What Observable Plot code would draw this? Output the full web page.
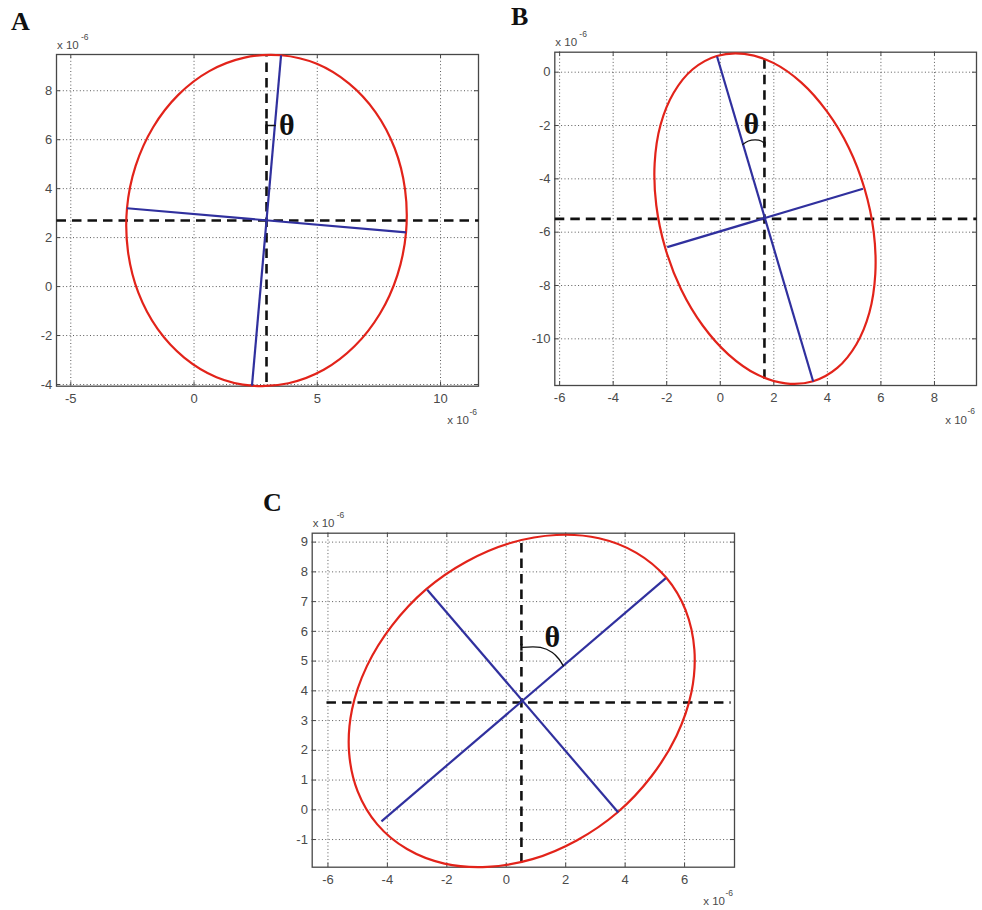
<!DOCTYPE html>
<html><head><meta charset="utf-8">
<script src="https://cdn.jsdelivr.net/npm/d3@7"></script>
<script src="https://cdn.jsdelivr.net/npm/@observablehq/plot@0.6"></script>
<style>
html,body{margin:0;padding:0;background:#fff;}
#root{position:relative;width:982px;height:910px;overflow:hidden;background:#fff;}
.panel{position:absolute;}
.panel svg{background:transparent !important;max-width:none !important;}
.letter{position:absolute;font-family:"Liberation Serif","Times New Roman",serif;font-weight:bold;font-size:26px;line-height:1;color:#111;}
</style></head><body><div id="root"></div>
<script>
// ---------- data (units of 1e-6) ----------
const panelLetters = ["A", "B", "C"];
const expLabel = ["x 10", "-6"];
const thetaLabel = "θ";

// Panel A
const aXTicks = [-5, 0, 5, 10];
const aYTicks = [-4, -2, 0, 2, 4, 6, 8];
const aXLim = [-5.58, 11.54];
const aYLim = [-4.07, 9.48];
const aEllipse = [[3.53,9.45],[4.98,9.10],[6.28,8.30],[7.36,7.13],[8.14,5.65],[8.56,3.97],[8.60,2.21],[8.25,0.47],[7.54,-1.11],[6.52,-2.43],[5.26,-3.40],[3.83,-3.95],[2.35,-4.05],[0.91,-3.70],[-0.40,-2.90],[-1.48,-1.73],[-2.26,-0.25],[-2.68,1.43],[-2.72,3.20],[-2.37,4.93],[-1.66,6.51],[-0.64,7.83],[0.62,8.80],[2.05,9.35]];
const aMajor = [[3.53,9.45],[2.35,-4.05]];
const aMinor = [[-2.72,3.20],[8.60,2.21]];
const aCenter = [2.94, 2.70];
const aVDashY = [-3.90, 9.47];
const aHDashX = [-5.58, 11.54];
const aArc = [[2.94,6.58],[3.29,6.58]];
const aHook = [[2.94,6.40],[2.94,6.76]];
const aTheta = [3.76, 6.58];

// Panel B
const bXTicks = [-6, -4, -2, 0, 2, 4, 6, 8];
const bYTicks = [-10, -8, -6, -4, -2, 0];
const bXLim = [-6.18, 9.57];
const bYLim = [-11.75, 0.75];
const bEllipse = [[-0.13,0.61],[0.90,0.69],[1.98,0.35],[3.03,-0.39],[3.99,-1.48],[4.80,-2.83],[5.39,-4.37],[5.73,-5.99],[5.79,-7.57],[5.57,-9.01],[5.08,-10.21],[4.37,-11.09],[3.47,-11.59],[2.44,-11.67],[1.36,-11.33],[0.31,-10.59],[-0.65,-9.51],[-1.46,-8.15],[-2.05,-6.61],[-2.39,-4.99],[-2.45,-3.41],[-2.23,-1.97],[-1.74,-0.77],[-1.03,0.11]];
const bMajor = [[-0.12,0.59],[3.47,-11.60]];
const bMinor = [[-1.98,-6.56],[5.33,-4.37]];
const bCenter = [1.65, -5.50];
const bVDashY = [-11.50, 0.62];
const bHDashX = [-6.18, 9.57];
const bArc = [[0.84,-2.71],[1.05,-2.58],[1.31,-2.54],[1.53,-2.58],[1.64,-2.67]];
const bHook = [[1.65,-2.60],[1.65,-2.83]];
const bTheta = [1.16, -1.94];

// Panel C
const cXTicks = [-6, -4, -2, 0, 2, 4, 6];
const cYTicks = [-1, 0, 1, 2, 3, 4, 5, 6, 7, 8, 9];
const cXLim = [-6.53, 7.68];
const cYLim = [-1.93, 9.30];
const cEllipse = [[5.38,7.81],[6.04,6.70],[6.33,5.38],[6.23,3.95],[5.73,2.49],[4.88,1.12],[3.74,-0.09],[2.37,-1.03],[0.88,-1.66],[-0.64,-1.92],[-2.08,-1.81],[-3.34,-1.32],[-4.34,-0.49],[-5.00,0.62],[-5.29,1.94],[-5.19,3.37],[-4.69,4.83],[-3.84,6.20],[-2.70,7.41],[-1.33,8.35],[0.17,8.98],[1.68,9.24],[3.12,9.13],[4.38,8.64]];
const cMajor = [[-4.20,-0.39],[5.37,7.79]];
const cMinor = [[-2.66,7.40],[3.77,-0.09]];
const cCenter = [0.51, 3.61];
const cVDashY = [-1.77, 9.10];
const cHDashX = [-6.05, 7.55];
const cArc = [[0.51,5.46],[1.15,5.46],[1.55,5.29],[1.77,5.07],[1.92,4.84]];
const cHook = [[0.51,5.35],[0.51,5.58]];
const cTheta = [1.55, 5.80];

// ---------- drawing ----------
const RED = "#e2231a", BLUE = "#30309e", GRID = "#5a5a5a", AXIS = "#474747", LABEL = "#4a4a4a";
const seg = (p, q) => ({x1: p[0], y1: p[1], x2: q[0], y2: q[1]});
const pt = {x: d => d[0], y: d => d[1]};

function panel(cfg) {
  const {w, h, ml, mr, mt, mb} = cfg;
  const iw = w - ml - mr, ih = h - mt - mb;
  const linkOpts = {x1: "x1", y1: "y1", x2: "x2", y2: "y2"};
  const dashes = [
    seg([cfg.center[0], cfg.vDashY[0]], [cfg.center[0], cfg.vDashY[1]]),
    seg([cfg.hDashX[0], cfg.center[1]], [cfg.hDashX[1], cfg.center[1]])
  ];
  return Plot.plot({
    width: w, height: h, marginLeft: ml, marginRight: mr, marginTop: mt, marginBottom: mb,
    x: {domain: cfg.xLim}, y: {domain: cfg.yLim},
    style: {background: "transparent", fontFamily: "'Liberation Sans', Arial, sans-serif", overflow: "visible"},
    marks: [
      Plot.gridX(cfg.xTicks, {stroke: GRID, strokeOpacity: 1, strokeWidth: 1, strokeDasharray: "1,2.4"}),
      Plot.gridY(cfg.yTicks, {stroke: GRID, strokeOpacity: 1, strokeWidth: 1, strokeDasharray: "1,2.4"}),
      Plot.tickX(cfg.xTicks, {x: d => d, insetTop: ih - 4, stroke: AXIS}),
      Plot.tickX(cfg.xTicks, {x: d => d, insetBottom: ih - 4, stroke: AXIS}),
      Plot.tickY(cfg.yTicks, {y: d => d, insetRight: iw - 4, stroke: AXIS}),
      Plot.tickY(cfg.yTicks, {y: d => d, insetLeft: iw - 4, stroke: AXIS}),
      Plot.axisX(cfg.xTicks, {anchor: "bottom", tickSize: 0, tickPadding: 7.5, tickFormat: d => String(d), fontSize: 13, fill: LABEL, label: null}),
      Plot.axisY(cfg.yTicks, {anchor: "left", tickSize: 0, tickPadding: 4.3, tickFormat: d => String(d), fontSize: 13, fill: LABEL, label: null}),
      Plot.frame({stroke: AXIS, strokeWidth: 1.3}),
      Plot.link(dashes, {...linkOpts, stroke: "#111", strokeWidth: 2.6, strokeDasharray: "9.5,6"}),
      Plot.line(cfg.ellipse, {...pt, curve: "catmull-rom-closed", stroke: RED, strokeWidth: 2.2}),
      Plot.link([seg(...cfg.major), seg(...cfg.minor)], {...linkOpts, stroke: BLUE, strokeWidth: 2.2}),
      Plot.line(cfg.arc, {...pt, curve: "catmull-rom", stroke: "#111", strokeWidth: 1.3}),
      Plot.link([seg(...cfg.hook)], {...linkOpts, stroke: "#111", strokeWidth: 2.4}),
      Plot.text([cfg.theta], {...pt, text: () => thetaLabel, fontSize: 30, fontWeight: "bold", fontFamily: "'Liberation Serif', 'Times New Roman', serif", fill: "#111", lineAnchor: "middle", textAnchor: "middle"}),
      // exponent labels (x 10^-6)
      Plot.text([expLabel[0]], {text: d => d, frameAnchor: "top-left", textAnchor: "start", lineAnchor: "bottom", dx: 0.5, dy: -6, fontSize: 11.5, fill: LABEL}),
      Plot.text([expLabel[1]], {text: d => d, frameAnchor: "top-left", textAnchor: "start", lineAnchor: "bottom", dx: 24.5, dy: -15, fontSize: 8.5, fill: LABEL}),
      Plot.text([expLabel[0]], {text: d => d, frameAnchor: "bottom-right", textAnchor: "end", lineAnchor: "bottom", dx: -9.5, dy: 38, fontSize: 11.5, fill: LABEL}),
      Plot.text([expLabel[1]], {text: d => d, frameAnchor: "bottom-right", textAnchor: "end", lineAnchor: "bottom", dx: -1.5, dy: 28.5, fontSize: 8.5, fill: LABEL})
    ]
  });
}

const root = document.getElementById("root");
function place(node, left, top, w, h) {
  const div = document.createElement("div");
  div.className = "panel";
  div.style.left = left + "px"; div.style.top = top + "px";
  div.style.width = w + "px"; div.style.height = h + "px";
  div.appendChild(node);
  root.appendChild(div);
}
function letter(txt, left, top) {
  const d = document.createElement("div");
  d.className = "letter"; d.textContent = txt;
  d.style.left = left + "px"; d.style.top = top + "px";
  root.appendChild(d);
}

place(panel({w: 490, h: 440, ml: 56, mr: 12, mt: 54, mb: 54.3,
  xLim: aXLim, yLim: aYLim, xTicks: aXTicks, yTicks: aYTicks, ellipse: aEllipse,
  major: aMajor, minor: aMinor, center: aCenter, vDashY: aVDashY, hDashX: aHDashX,
  arc: aArc, hook: aHook, theta: aTheta}), 0, 0, 490, 440);

place(panel({w: 492, h: 440, ml: 64.3, mr: 6, mt: 51.7, mb: 55,
  xLim: bXLim, yLim: bYLim, xTicks: bXTicks, yTicks: bYTicks, ellipse: bEllipse,
  major: bMajor, minor: bMinor, center: bCenter, vDashY: bVDashY, hDashX: bHDashX,
  arc: bArc, hook: bHook, theta: bTheta}), 490, 0, 492, 440);

place(panel({w: 500, h: 430, ml: 61.7, mr: 16, mt: 52.7, mb: 43.3,
  xLim: cXLim, yLim: cYLim, xTicks: cXTicks, yTicks: cYTicks, ellipse: cEllipse,
  major: cMajor, minor: cMinor, center: cCenter, vDashY: cVDashY, hDashX: cHDashX,
  arc: cArc, hook: cHook, theta: cTheta}), 250, 480, 500, 430);

letter(panelLetters[0], 11, 9);
letter(panelLetters[1], 511, 3.7);
letter(panelLetters[2], 263, 490.4);
</script></body></html>
